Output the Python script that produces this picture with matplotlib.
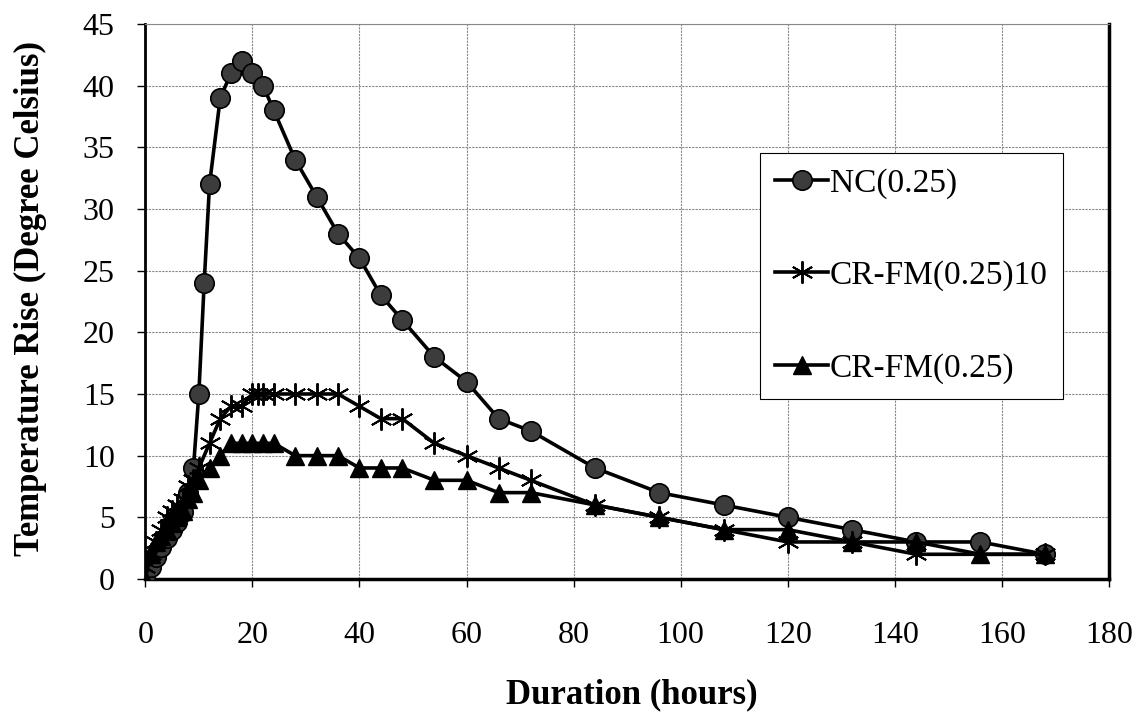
import matplotlib
matplotlib.use("Agg")
import matplotlib.pyplot as plt

plt.rcParams['font.family'] = ['Liberation Serif', 'DejaVu Serif']

# NC(0.25)
nc_hours = [0, 1, 2, 3, 4, 5, 6, 7, 8, 9, 10, 11, 12, 14, 16, 18, 20, 22, 24,
            28, 32, 36, 40, 44, 48, 54, 60, 66, 72, 84, 96, 108, 120, 132,
            144, 156, 168]
nc_temp = [0, 1, 1.8, 2.6, 3.3, 4, 4.6, 5.4, 7, 9, 15, 24, 32, 39, 41, 42, 41,
           40, 38, 34, 31, 28, 26, 23, 21, 18, 16, 13, 12, 9, 7, 6, 5, 4,
           3, 3, 2]

# CR-FM(0.25)10
cr10_hours = [0, 1, 2, 3, 4, 5, 6, 7, 8, 9, 10, 12, 14, 16, 18, 20, 21, 22,
              24, 28, 32, 36, 40, 44, 48, 54, 60, 66, 72, 84, 96, 108, 120,
              132, 144, 168]
cr10_temp = [1, 2, 3, 4, 5, 5.5, 6, 6.5, 7.5, 8, 9, 11, 13, 14, 14, 15, 15,
             15, 15, 15, 15, 15, 14, 13, 13, 11, 10, 9, 8, 6, 5, 4, 3,
             3, 2, 2]

# CR-FM(0.25)
cr_hours = [0, 1, 2, 3, 4, 5, 6, 7, 8, 9, 10, 12, 14, 16, 18, 20, 22, 24,
            28, 32, 36, 40, 44, 48, 54, 60, 66, 72, 84, 96, 108, 120, 132,
            144, 156, 168]
cr_temp = [0, 2, 3, 3.5, 4, 4.5, 5, 5.5, 6.5, 7, 8, 9, 10, 11, 11, 11, 11, 11,
           10, 10, 10, 9, 9, 9, 8, 8, 7, 7, 6, 5, 4, 4, 3,
           3, 2, 2]

x_ticks = [0, 20, 40, 60, 80, 100, 120, 140, 160, 180]
y_ticks = [0, 5, 10, 15, 20, 25, 30, 35, 40, 45]

fig = plt.figure(figsize=(11.44, 7.13), dpi=100)
ax = fig.add_axes([0.127, 0.188, 0.8424, 0.7783])

ax.plot(nc_hours, nc_temp, color='black', lw=2.6, marker='o', ms=14,
        mfc='#3c3c3c', mec='black', mew=1.2, label='NC(0.25)', zorder=3)
ax.plot(cr10_hours, cr10_temp, color='black', lw=2.6, marker=(6, 2, 0),
        ms=16, mec='black', mew=1.4, label='CR-FM(0.25)10', zorder=4)
ax.plot(cr_hours, cr_temp, color='black', lw=2.6, marker='^', ms=13,
        mfc='black', mec='black', label='CR-FM(0.25)', zorder=5)

ax.set_xlim(0, 180)
ax.set_ylim(0, 45)
ax.set_xticks(x_ticks)
ax.set_yticks(y_ticks)
ax.tick_params(axis='both', labelsize=23, direction='out', length=6, width=1)
ax.tick_params(axis='x', pad=24)
ax.tick_params(axis='y', pad=16)

ax.grid(True, color='#888888', linestyle=(0, (2, 1)), linewidth=0.8)
ax.set_axisbelow(True)

ax.spines['top'].set_color('#888888')
ax.spines['top'].set_linewidth(0.8)
ax.spines['left'].set_linewidth(2)
ax.spines['bottom'].set_linewidth(2.5)
ax.spines['right'].set_linewidth(2.5)

fig.text(0.552, 0.026, 'Duration (hours)', fontsize=25, fontweight='bold',
         ha='center', va='center')
fig.text(0.027, 0.582, 'Temperature Rise (Degree Celsius)', fontsize=25,
         fontweight='bold', rotation=90, ha='center', va='center')

leg = ax.legend(loc='upper left', fontsize=24, frameon=True,
                fancybox=False, edgecolor='black', framealpha=1,
                handlelength=1.6, handletextpad=0.05, labelspacing=1.85,
                borderpad=0.45, borderaxespad=0)
leg.get_frame().set_linewidth(0.8)
leg.set_bbox_to_anchor((760 / 1144, 1 - 153 / 713), transform=fig.transFigure)

fig.savefig('out.png', dpi=100)
